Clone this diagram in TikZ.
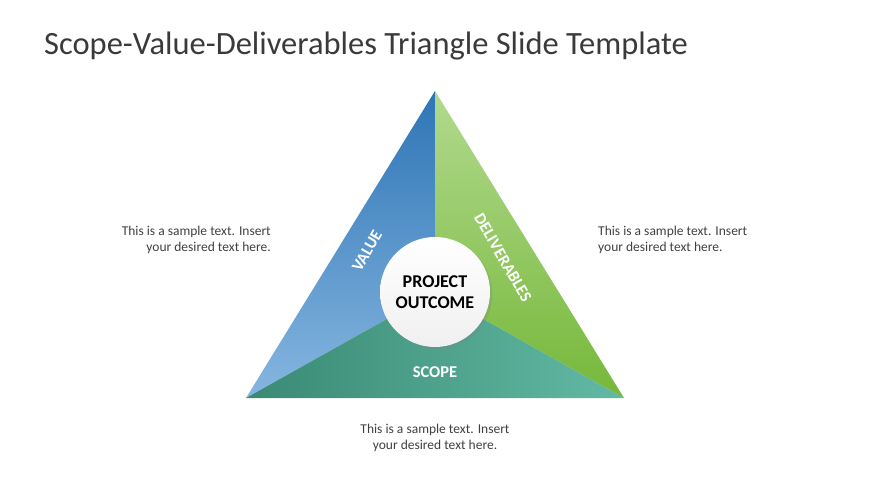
\documentclass[tikz,border=0pt]{standalone}
\usepackage{fontspec}
\setmainfont{Carlito}
\usetikzlibrary{positioning,shadows}
\definecolor{valtop}{HTML}{2E75B6}
\definecolor{valbot}{HTML}{86B6E0}
\definecolor{deltop}{HTML}{B2D98E}
\definecolor{delbot}{HTML}{76B83A}
\definecolor{scoleft}{HTML}{3A8A74}
\definecolor{scoright}{HTML}{62B9A3}
\definecolor{titlegray}{HTML}{3A3A3A}
\definecolor{textgray}{HTML}{404040}
\tikzstyle{side}  = [font=\fontsize{13.5}{16}\selectfont, text=textgray, inner sep=0pt]
\tikzstyle{label} = [font=\fontsize{16.5}{18}\selectfont\bfseries, text=white, inner sep=1pt]
\begin{document}
\begin{tikzpicture}[x=1pt, y=-1pt]
	\useasboundingbox (0,0) rectangle (870,489);
	
	% Title %
	\node [anchor=west, font=\fontsize{32.5}{36}\selectfont, text=titlegray, inner sep=0pt] (title) at (44,46) {Scope-Value-Deliverables Triangle Slide Template};
	
	% Corners %
	\coordinate (apex) at (435,91);
	\coordinate (left) at (246,398);
	\coordinate (right) at (624,398);
	\coordinate (mid) at (435,292);
	
	% Faces %
	\shade [top color=valtop, bottom color=valbot] (apex) -- (mid) -- (left) -- cycle;
	\shade [top color=deltop, bottom color=delbot] (apex) -- (right) -- (mid) -- cycle;
	\shade [left color=scoleft, right color=scoright] (left) -- (mid) -- (right) -- cycle;
	
	% Centre %
	\node [circle, minimum size=110pt, inner sep=0pt, top color=white, bottom color=gray!12, drop shadow={opacity=0.25}] (outcome) at (mid) {};
	\node [align=center, font=\fontsize{18}{21}\selectfont\bfseries, text=black] at (outcome) {PROJECT\\OUTCOME};
	
	% Labels %
	\node [label, rotate=60] (value) at (367,251) {VALUE};
	\node [label, rotate=-60] (deliv) at (503,258) {DELIVERABLES};
	\node [label] (scope) at (435,372) {SCOPE};
	
	% Side texts %
	\node [side, align=right, anchor=east] (valtext) at (271,240) {This is a sample text. Insert\\your desired text here.};
	\node [side, align=left, anchor=west] (deltext) at (598,240) {This is a sample text. Insert\\your desired text here.};
	\node [side, align=center] (scotext) at (435,438) {This is a sample text. Insert\\your desired text here.};
\end{tikzpicture}
\end{document}
